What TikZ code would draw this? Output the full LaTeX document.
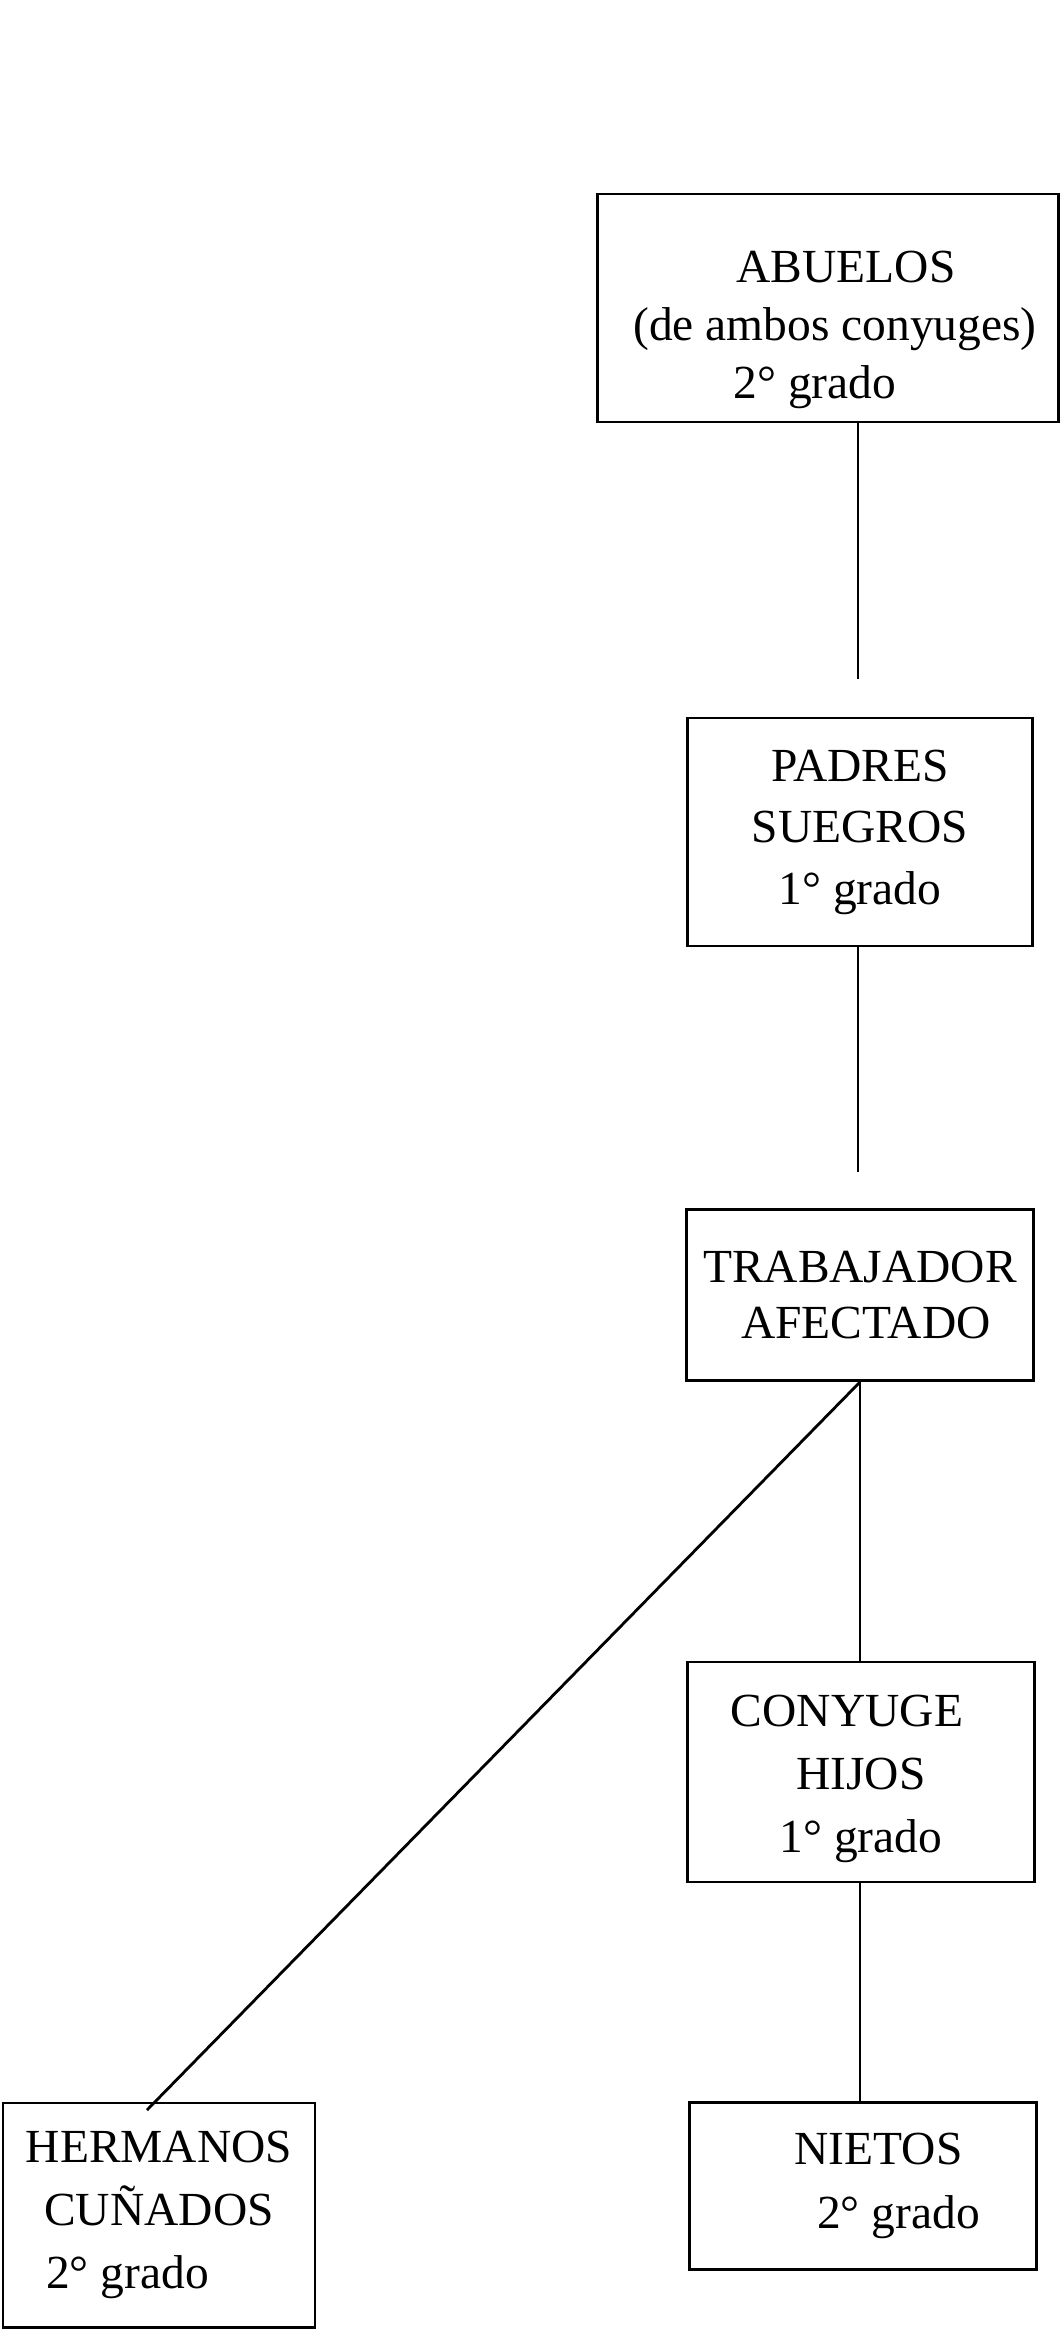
\documentclass[tikz,border=0pt]{standalone}
\usepackage{fontspec}
\setmainfont{Liberation Serif}
\usetikzlibrary{positioning}

\tikzset{caja/.style={draw,line width=0.8pt,inner sep=2pt,align=center,font=\fontsize{13.5}{#1}\selectfont},
	caja/.default=17.5}

\begin{document}
\begin{tikzpicture}[x=0.01cm,y=-0.01cm]
			\useasboundingbox (0,0) rectangle (1062,2338);
			
			% Cajas
			\node[caja=16.5,minimum width=4.6cm,minimum height=2.28cm] (abuelos) at (828,308)
				{\rule{0pt}{0.76cm}\hspace*{0.36cm}ABUELOS\\\hspace*{0.14cm}(de ambos conyuges)\\2° grado\hspace*{0.26cm}};
			\node[caja,minimum width=3.44cm,minimum height=2.28cm] (padres) at (860,832)
				{PADRES\\SUEGROS\\1° grado};
			\node[caja=16.2,minimum width=3.46cm,minimum height=1.71cm] (trabajador) at (860,1295)
				{TRABAJADOR\\\hspace*{0.12cm}AFECTADO};
			\node[caja=18,minimum width=3.47cm,minimum height=2.2cm] (conyuge) at (861,1772)
				{\rule{0pt}{0.45cm}CONYUGE\hspace*{0.28cm}\\HIJOS\hspace*{0.08cm}\\1° grado};
			\node[caja=18.2,minimum width=3.47cm,minimum height=1.67cm] (nietos) at (863,2186)
				{\hspace*{0.31cm}NIETOS\\\hspace*{0.71cm}2° grado};
			\node[caja=18,minimum width=3.12cm,minimum height=2.24cm] (hermanos) at (159,2215)
				{HERMANOS\\CUÑADOS\hspace*{0.43cm}\\2° grado\hspace*{0.63cm}};
			
			% Extremos libres
			\coordinate (fin1) at (858,679);
			\coordinate (fin2) at (858,1172);
			\coordinate (fin3) at (147,2110);
			
			% Lineas
			\draw[line width=0.8pt] (fin1 |- abuelos.south) -- (fin1);
			\draw[line width=0.8pt] (fin2 |- padres.south) -- (fin2);
			\draw[line width=0.8pt] (trabajador.south) -- (trabajador.south |- conyuge.north);
			\draw[line width=0.8pt] (trabajador.south) -- (fin3);
			\draw[line width=0.8pt] (conyuge.south -| trabajador.south) -- (trabajador.south |- nietos.north);
			
		\end{tikzpicture}
\end{document}
